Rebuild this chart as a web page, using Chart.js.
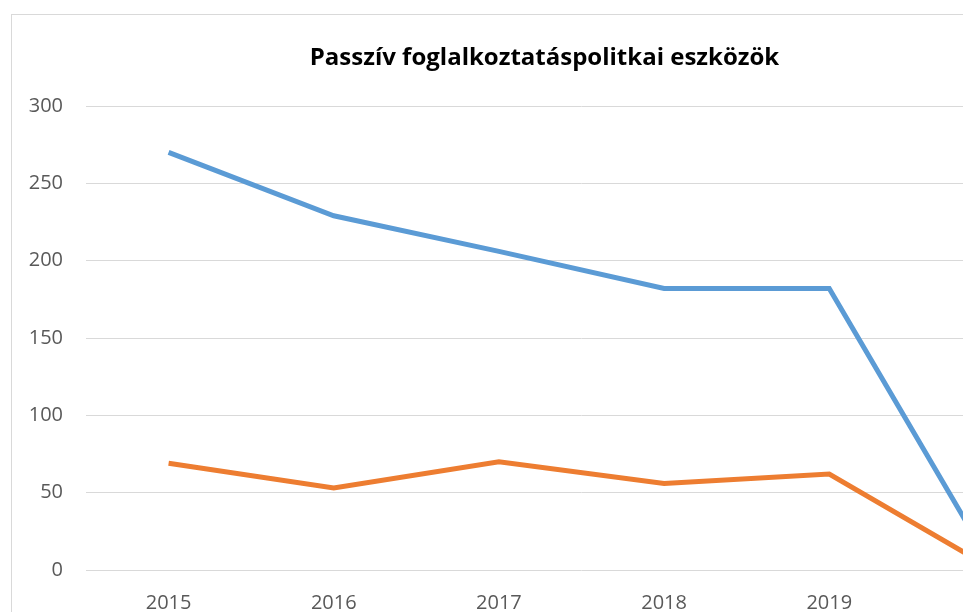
<!DOCTYPE html>
<html lang="hu">
<head>
    <meta charset="UTF-8">
    <title>Passzív foglalkoztatáspolitkai eszközök</title>
    <script src="https://cdn.jsdelivr.net/npm/chart.js@4"></script>
    <style>
        html, body { margin: 0; padding: 0; background: #fff; overflow: hidden; }
        #frame {
            position: absolute; left: 11px; top: 14px;
            width: 1065px; height: 640px;
            border: 1px solid #D9D9D9;
        }
    </style>
</head>
<body>
    <div id="frame"><canvas id="chart" width="1065" height="640"></canvas></div>

    <script>
        // data
        const years = ['2015', '2016', '2017', '2018', '2019', '2020'];
        const seriesBlue = [270, 229, 206, 182, 182, 0];
        const seriesOrange = [69, 53, 70, 56, 62, 0];
        const yTicks = [0, 50, 100, 150, 200, 250, 300];

        const ctx = document.getElementById('chart').getContext('2d');

        new Chart(ctx, {
            type: 'line',
            data: {
                labels: years,
                datasets: [
                    {
                        label: 'Sorozat1',
                        data: seriesBlue,
                        borderColor: '#5B9BD5',
                        backgroundColor: '#5B9BD5',
                        borderWidth: 5,
                        pointRadius: 0,
                        tension: 0
                    },
                    {
                        label: 'Sorozat2',
                        data: seriesOrange,
                        borderColor: '#ED7D31',
                        backgroundColor: '#ED7D31',
                        borderWidth: 5,
                        pointRadius: 0,
                        tension: 0
                    }
                ]
            },
            options: {
                responsive: false,
                animation: false,
                layout: { padding: { left: 0, right: 0, top: 0, bottom: 27 } },
                scales: {
                    x: {
                        offset: true,
                        grid: { display: false },
                        border: { display: false },
                        ticks: {
                            color: '#595959',
                            padding: 13,
                            maxRotation: 0,
                            font: { family: 'Open Sans', size: 20 }
                        }
                    },
                    y: {
                        min: 0,
                        max: 300,
                        afterBuildTicks: scale => {
                            scale.ticks = yTicks.map(v => ({ value: v }));
                        },
                        afterFit: scale => { scale.width = 74; },
                        grid: { color: '#D9D9D9', lineWidth: 1, drawTicks: false },
                        border: { display: false },
                        ticks: {
                            color: '#595959',
                            padding: 23,
                            font: { family: 'Open Sans', size: 20 }
                        }
                    }
                },
                plugins: {
                    legend: { display: false },
                    tooltip: { enabled: false },
                    title: {
                        display: true,
                        text: 'Passzív foglalkoztatáspolitkai eszközök',
                        color: '#000',
                        font: { family: 'Open Sans', size: 24, weight: 'bold' },
                        padding: { top: 28.6, bottom: 33.6 }
                    }
                }
            }
        });
    </script>
</body>
</html>
